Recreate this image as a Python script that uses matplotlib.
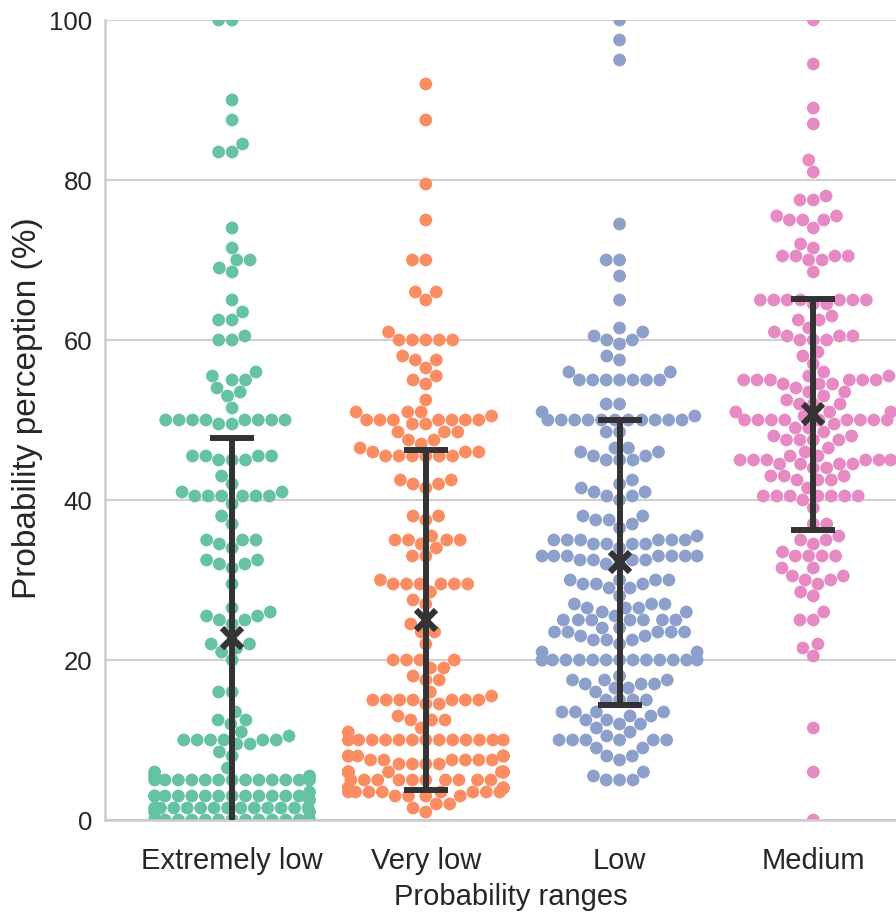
import matplotlib
matplotlib.use("Agg")
import matplotlib.pyplot as plt
import seaborn as sns
import pandas as pd
import warnings
warnings.filterwarnings("ignore")

categories = ["Extremely low", "Very low", "Low", "Medium"]

extremely_low = [
    100, 100, 90, 87.5, 84.5, 83.5, 83.5, 74, 71.5, 70, 70, 69, 68.5,
    65, 63.5, 62.5, 62.5, 60.5, 60, 60, 56, 55.5, 55, 55, 54, 53.5, 53, 51.5,
    50, 50, 50, 50, 50, 50, 50, 50, 49.5, 49.5,
    45.5, 45.5, 45.5, 45.5, 45, 45, 45, 43, 42, 41, 41,
    40.5, 40.5, 40.5, 40.5, 40.5, 40.5, 39.5, 38, 37,
    35, 35, 35, 34.5, 34, 32.5, 32.5, 32, 32, 31.5, 29.5,
    26.5, 26, 25.5, 25.5, 25, 25, 24.5, 22, 22, 21.5, 21, 20,
    16, 16, 13.5, 12.5, 12.5, 12,
    11, 10.5, 10, 10, 10, 10, 10, 10, 9.5, 9.5, 8.5, 8, 6.5, 6,
    5, 5, 5, 5, 5, 5, 5, 5, 5, 5, 5, 5, 5, 5.5, 5.5,
    3, 3, 3, 3, 3, 3, 3, 3, 3, 3, 3, 3, 3, 3.5, 2.5,
    1.5, 1.5, 1.5, 1.5, 1.5, 1.5, 1.5, 1.5, 1.5, 1.5, 1.5, 1.5, 1.5, 1, 1,
    0, 0, 0, 0, 0, 0, 0, 0, 0, 0, 0, 0, 0, 0, 0,
]

very_low = [
    92, 87.5, 79.5, 75, 70, 70, 66, 66, 65,
    61, 60, 60, 60, 60, 60, 58, 57.5, 57.5, 56.5, 55.5, 55, 54.5, 52.5,
    51, 51, 51, 50.5, 50, 50, 50, 50, 50, 50, 50, 49.5, 49.5,
    48.5, 48.5, 48.5, 47.5, 47.5, 47, 46.5, 46, 46, 46,
    45.5, 45.5, 45.5, 45.5, 45.5, 45.5,
    42.5, 42.5, 42, 42, 41.5,
    38, 38, 37.5, 35.5, 35, 35, 35, 35, 34.5, 34, 33, 33,
    30, 29.5, 29.5, 29.5, 29.5, 29.5, 29.5, 28.5, 27.5, 27,
    24.5, 23.5, 23.5, 22,
    20, 20, 20, 20, 19, 19, 18, 17.5, 17.5,
    16, 15.5, 15, 15, 15, 15, 15, 15, 15, 14.5, 14.5,
    13, 12.5, 12.5, 12.5, 11.5, 11,
    10, 10, 10, 10, 10, 10, 10, 10, 10, 10, 10, 10, 10,
    8, 8, 8, 8, 8, 8, 7.5, 7.5, 7.5, 7.5, 7.5, 7.5, 7, 7, 7, 7,
    6, 6, 6, 6, 6, 6, 6, 6, 6, 6, 6, 6,
    5, 5, 5, 5, 5, 5, 5, 5, 5, 5,
    4, 4, 4, 4, 4, 4, 3.5, 3.5, 3.5, 3.5, 3.5, 3.5, 3.5, 3.5,
    3, 3, 3, 3, 2, 2, 1.5, 1,
]

low = [
    100, 97.5, 95, 74.5, 70, 70, 68, 65,
    61.5, 61, 60.5, 60, 60, 59.5, 58, 57.5, 56, 56,
    55, 55, 55, 55, 55, 55, 55,
    52, 52, 51, 50, 50, 50, 50, 50, 50, 50, 50, 50, 50, 50, 50.5, 48.5, 48.5,
    46.5, 46.5, 46, 46, 45.5, 45.5, 45, 45, 45,
    42.5, 42, 41.5, 41, 41, 40.5, 40.5, 40,
    38, 38, 37.5, 37.5, 37, 36.5, 35.5,
    35, 35, 35, 35, 35, 35, 34.5, 34.5, 34.5, 34.5, 34,
    33, 33, 33, 33, 33, 33, 33, 32.5, 32.5, 32.5, 32.5, 32, 32,
    30, 30, 30, 30, 29.5, 29.5, 29.5, 29, 29, 28, 27, 27, 27, 26.5, 26.5, 26.5,
    26, 26, 25.5, 25, 25, 25, 25, 25, 25, 25, 24, 24,
    23.5, 23.5, 23.5, 23.5, 23.5, 23, 23, 22.5, 22.5, 22.5, 22, 21, 21,
    20, 20, 20, 20, 20, 20, 20, 20, 20, 20, 20, 20, 20, 20,
    18, 17.5, 17.5, 17.5, 17, 17, 17, 16.5, 16.5, 16, 15, 15, 15, 15,
    13.5, 13.5, 13.5, 13.5, 13, 13, 12.5, 12.5, 12, 12, 11.5, 11,
    10, 10, 10, 10, 10, 10, 10.5, 9, 9, 8, 8, 7.5, 6, 5.5, 5, 5, 5,
]

medium = [
    100, 94.5, 89, 87, 82.5, 81,
    78, 77.5, 77.5, 75.5, 75.5, 75, 75, 75, 74, 72, 71.5,
    70.5, 70.5, 70.5, 70.5, 70, 70, 68.5,
    65, 65, 65, 65, 65, 65, 65, 64.5, 64.5,
    63, 62.5, 62.5, 61.5, 61, 60.5, 60.5, 60.5, 60, 60, 60,
    58.5, 58, 57, 56, 55.5, 55.5, 55, 55, 55, 55, 55, 55,
    54.5, 54.5, 54.5, 54, 53.5, 53.5, 53, 52.5, 52, 52, 52,
    51, 51, 51, 50.5, 50, 50, 50, 50, 50, 50, 50, 50, 50, 49.5, 49, 49, 48.5, 48, 48,
    47.5, 47.5, 47.5, 47.5, 46.5, 46, 45.5, 45.5, 45, 45, 45, 45, 45, 45,
    44.5, 44.5, 44.5, 44.5, 44, 44,
    43, 43, 43, 42.5, 42.5, 42.5, 41.5,
    40.5, 40.5, 40.5, 40.5, 40.5, 40.5, 40.5, 40,
    39, 37, 37, 35.5, 35, 35, 34.5, 33.5, 33, 33, 33, 33, 31.5, 31.5,
    30.5, 30.5, 30, 30, 29.5, 28.5, 28,
    26, 25, 25, 22, 21.5, 20.5, 11.5, 6, 0,
]

# summary markers (mean and +/- spread)
means = [22.7, 25.0, 32.2, 50.7]
spreads = [25.0, 21.2, 17.8, 14.4]

palette = ["#66c2a5", "#fc8d62", "#8da0cb", "#e78ac3"]

sns.set_theme(style="whitegrid")
plt.rcParams["font.family"] = ["Liberation Sans", "DejaVu Sans"]

series = [extremely_low, very_low, low, medium]
df = pd.DataFrame({
    "cat": [c for c, vals in zip(categories, series) for _ in vals],
    "val": [v for vals in series for v in vals],
})

fig = plt.figure(figsize=(8.96, 9.15), dpi=100)
ax = fig.add_axes([105 / 896, 1 - 820 / 915, 811 / 896, 800 / 915])
ax.set_xlim(-0.656, 3.53)
ax.set_ylim(0, 100)

sns.swarmplot(data=df, x="cat", y="val", hue="cat", palette=palette,
              order=categories, hue_order=categories, size=9.2, linewidth=0,
              legend=False, ax=ax, zorder=2)
ax.set_xlim(-0.656, 3.53)
ax.set_ylim(0, 100)

xs = list(range(len(categories)))
ax.errorbar(xs, means, yerr=spreads, fmt="none", ecolor="#333333",
            elinewidth=4.3, capsize=16, capthick=4.3, zorder=4)
ax.plot(xs, means, linestyle="none", marker="x", color="#333333",
        markersize=15, markeredgewidth=4.5, zorder=5)

ax.set_yticks([0, 20, 40, 60, 80, 100])
ax.xaxis.grid(False)
ax.yaxis.grid(True, color="#d0d0d0", linewidth=1.5)
for side in ["top", "right"]:
    ax.spines[side].set_visible(False)
for side in ["left", "bottom"]:
    ax.spines[side].set_color("#cccccc")
    ax.spines[side].set_linewidth(1.8)
ax.tick_params(axis="x", labelsize=21, colors="#262626", length=0, pad=19.5)
ax.tick_params(axis="y", labelsize=18.5, colors="#262626", length=0, pad=9)
ax.set_xlabel("Probability ranges", fontsize=21, color="#262626", labelpad=6)
ax.set_ylabel("Probability perception (%)", fontsize=24, color="#262626")
ax.yaxis.set_label_coords(-0.076, 0.515)

fig.savefig("out.png", dpi=100)
